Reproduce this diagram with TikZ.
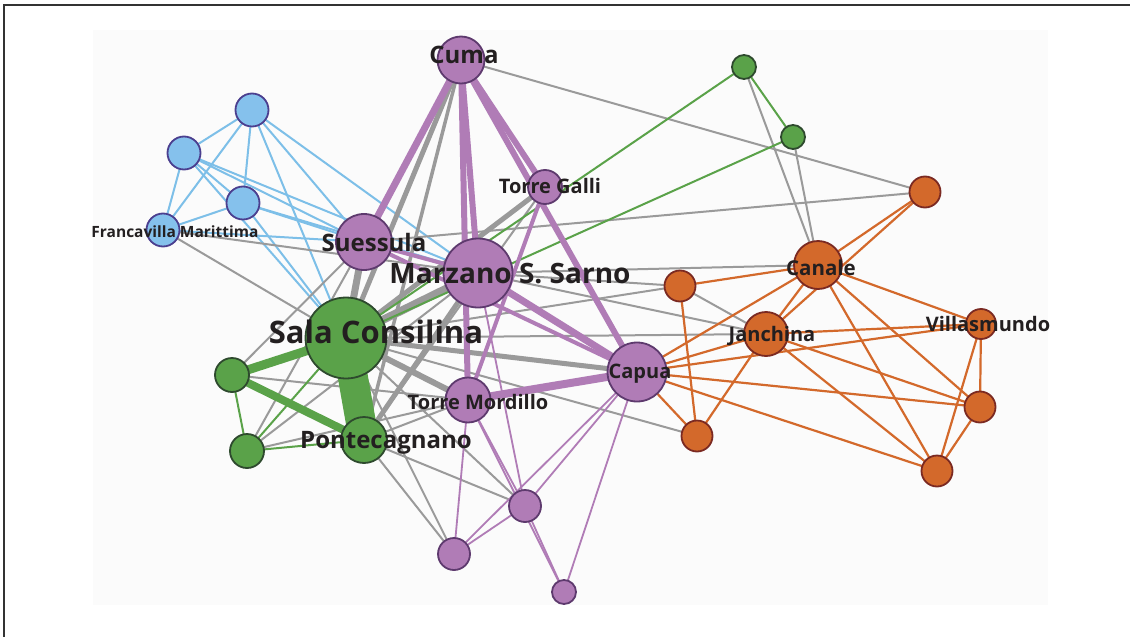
\documentclass[tikz,border=0pt]{standalone}
\usepackage{fontspec}
\setmainfont{Open Sans}
\definecolor{cblue}{HTML}{85C1EC}
\definecolor{cbluebd}{HTML}{4B3F8F}
\definecolor{eblue}{HTML}{7DBFE8}
\definecolor{cpur}{HTML}{B07CB6}
\definecolor{cpurbd}{HTML}{5E3A6E}
\definecolor{cgrn}{HTML}{5AA249}
\definecolor{cgrnbd}{HTML}{2E4A2E}
\definecolor{corg}{HTML}{D3692B}
\definecolor{corgbd}{HTML}{7B2A22}
\definecolor{egray}{HTML}{9A9A9A}
\definecolor{labcol}{HTML}{231F20}
\pgfdeclarelayer{bg}
\pgfdeclarelayer{edges}
\pgfdeclarelayer{labels}
\pgfsetlayers{bg,edges,main,labels}
\tikzset{
  vtx/.style={circle, inner sep=0pt, line width=1.8pt, minimum size=#1},
  vb/.style={vtx=#1, draw=cbluebd, fill=cblue},
  vp/.style={vtx=#1, draw=cpurbd, fill=cpur},
  vg/.style={vtx=#1, draw=cgrnbd, fill=cgrn},
  vo/.style={vtx=#1, draw=corgbd, fill=corg},
  lab/.style={inner sep=0pt, anchor=base, text=labcol, font=\bfseries\fontsize{#1}{#1}\selectfont},
  eb/.style={draw=eblue, line width=2pt},
  eg/.style={draw=egray, line width=#1},
  eg/.default=2pt,
  ep/.style={draw=cpur, line width=#1},
  ep/.default=1.8pt,
  egr/.style={draw=cgrn, line width=#1},
  egr/.default=2pt,
  eo/.style={draw=corg, line width=2.2pt},
}
\begin{document}
\begin{tikzpicture}[x=1pt, y=-1pt]
\useasboundingbox (0,0) rectangle (1130,637);
\begin{pgfonlayer}{bg}
\fill[white] (0,0) rectangle (1130,637);
\fill[black!1.5] (93,30) rectangle (1048,605);
\draw[line width=1.5pt, black!80] (4,637) -- (4,5) -- (1130,5);
\end{pgfonlayer}

% blue
\node[vb=33] (b1) at (252,110) {};
\node[vb=33] (b2) at (184,153) {};
\node[vb=33] (b3) at (243,203) {};
\node[vb=33] (fra) at (163,230) {};
% purple
\node[vp=47] (cuma) at (461,60) {};
\node[vp=34] (tg) at (545,187) {};
\node[vp=56] (sue) at (364,242) {};
\node[vp=69] (mar) at (478,273) {};
\node[vp=45] (tm) at (468,400) {};
\node[vp=59] (cap) at (637,372) {};
\node[vp=32] (p1) at (525,506) {};
\node[vp=32] (p2) at (454,554) {};
\node[vp=24] (p3) at (564,592) {};
% green
\node[vg=24] (g1) at (744,67) {};
\node[vg=24] (g2) at (793,137) {};
\node[vg=81] (sala) at (346,338) {};
\node[vg=34] (gl1) at (232,375) {};
\node[vg=34] (gl2) at (247,451) {};
\node[vg=46] (pon) at (364,440) {};
% orange
\node[vo=31] (o1) at (925,192) {};
\node[vo=48] (can) at (818,265) {};
\node[vo=31] (o2) at (680,286) {};
\node[vo=44] (jan) at (766,334) {};
\node[vo=30] (vil) at (981,324) {};
\node[vo=31] (o3) at (980,407) {};
\node[vo=31] (o4) at (697,436) {};
\node[vo=31] (o5) at (937,471) {};

\begin{pgfonlayer}{edges}
% blue edges
\foreach \a/\b in {b1/b2, b1/fra, b1/b3, b1/sue, b1/mar, b1/sala, b2/fra, b2/b3, b2/sue, b2/mar, b2/sala, b3/fra, b3/sue, b3/mar, b3/sala, fra/sue}
  \draw[eb] (\a.center) -- (\b.center);
% gray thin
\foreach \a/\b in {fra/sala, fra/mar, sue/o1, cuma/o1, mar/can, mar/o2, mar/jan, sala/jan, sala/o2, o2/jan, can/g1, can/g2, sala/o4, sala/p1, sala/p2, pon/p1, pon/p2, pon/tm, pon/tg, gl1/sue, gl1/tm, gl2/sue, gl2/mar, gl2/tm}
  \draw[eg] (\a.center) -- (\b.center);
% gray thick
\draw[eg=5pt] (cuma.center) -- (sala.center);
\draw[eg=3.5pt] (cuma.center) -- (pon.center);
\draw[eg=7pt] (sala.center) -- (sue.center);
\draw[eg=8pt] (sala.center) -- (mar.center);
\draw[eg=5pt] (sala.center) -- (tg.center);
\draw[eg=5pt] (sala.center) -- (cap.center);
\draw[eg=6pt] (sala.center) -- (tm.center);
\draw[eg=5pt] (pon.center) -- (mar.center);
% green
\draw[egr=30pt] (sala.center) -- (pon.center);
\draw[egr=9pt] (sala.center) -- (gl1.center);
\draw[egr=8pt] (gl1.center) -- (pon.center);
\foreach \a/\b in {gl1/gl2, gl2/pon, gl2/sala, g1/g2, g1/sala, g2/sala}
  \draw[egr] (\a.center) -- (\b.center);
% purple
\draw[ep=7pt] (cuma.center) -- (sue.center);
\draw[ep=6pt] (cuma.center) -- (mar.center);
\draw[ep=6pt] (cuma.center) -- (tm.center);
\draw[ep=6pt] (cuma.center) -- (tg.center);
\draw[ep=6pt] (cuma.center) -- (cap.center);
\draw[ep=4pt] (sue.center) -- (mar.center);
\draw[ep=7pt] (mar.center) -- (cap.center);
\draw[ep=4pt] (sue.center) -- (cap.center);
\draw[ep=8pt] (tm.center) -- (cap.center);
\draw[ep=4pt] (tg.center) -- (tm.center);
\foreach \a/\b in {mar/p1, tm/p1, tm/p3, tm/p2, cap/p1, cap/p2, cap/p3, p1/p2, p1/p3}
  \draw[ep] (\a.center) -- (\b.center);
% orange
\foreach \a/\b in {o1/can, o1/jan, cap/can, cap/jan, cap/vil, cap/o3, cap/o5, cap/o4, o2/can, o2/o4, jan/can, jan/vil, jan/o3, jan/o5, jan/o4, can/o5, can/o3, can/vil, vil/o3, vil/o5, o3/o5}
  \draw[eo] (\a.center) -- (\b.center);
\end{pgfonlayer}

\begin{pgfonlayer}{labels}
\node[lab=24] (lcuma) at (464,63) {Cuma};
\node[lab=20] (ltg) at (550,193) {Torre Galli};
\node[lab=15.5] (lfra) at (175,237) {Francavilla Marittima};
\node[lab=24] (lsue) at (374,251) {Suessula};
\node[lab=28] (lmar) at (510,283) {Marzano S. Sarno};
\node[lab=31] (lsala) at (376,343) {Sala Consilina};
\node[lab=20] (ltm) at (478,409) {Torre Mordillo};
\node[lab=20] (lcap) at (640,378) {Capua};
\node[lab=24] (lpon) at (386,448) {Pontecagnano};
\node[lab=20.5] (lcan) at (821,275) {Canale};
\node[lab=20] (ljan) at (772,341) {Janchina};
\node[lab=20] (lvil) at (988,331) {Villasmundo};
\end{pgfonlayer}
\end{tikzpicture}
\end{document}
